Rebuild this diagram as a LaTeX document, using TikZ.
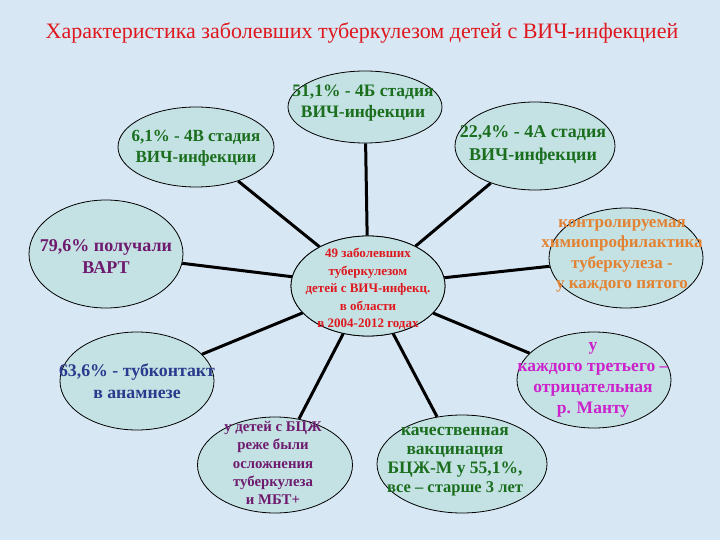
\documentclass[tikz,border=0pt]{standalone}
\usepackage{fontspec}
\setmainfont{Liberation Serif}
\usetikzlibrary{shapes.geometric}
\definecolor{bg}{RGB}{216,231,244}
\definecolor{ellfill}{RGB}{196,226,228}
\definecolor{tred}{RGB}{222,24,30}
\definecolor{tgreen}{RGB}{26,110,30}
\definecolor{tpurple}{RGB}{110,26,110}
\definecolor{torange}{RGB}{226,130,50}
\definecolor{tblue}{RGB}{42,58,140}
\definecolor{tmag}{RGB}{204,34,204}
\begin{document}
\begin{tikzpicture}[x=1pt,y=-1pt,
  ell/.style={ellipse, draw=black, line width=0.8pt, fill=ellfill, inner sep=0pt},
  txt/.style={align=center, inner sep=0pt, font=\fontsize{17.5}{21}\selectfont\bfseries},
  conn/.style={line width=3pt, draw=black}]
\fill[bg] (0,0) rectangle (720,540);
\useasboundingbox (0,0) rectangle (720,540);
\node[inner sep=0pt, text=tred, font=\fontsize{22}{26}\selectfont] (title) at (362,33) {Характеристика заболевших туберкулезом детей с ВИЧ-инфекцией};
% ellipses
\node[ell, minimum width=154pt, minimum height=72pt] (top) at (365,107) {};
\node[ell, minimum width=156pt, minimum height=80pt] (lt) at (196,147) {};
\node[ell, minimum width=160pt, minimum height=88pt] (rt) at (535,146) {};
\node[ell, minimum width=154pt, minimum height=108pt] (lm) at (106,254) {};
\node[ell, minimum width=154pt, minimum height=100pt] (rm) at (626,258) {};
\node[ell, minimum width=154pt, minimum height=98pt] (lb) at (137,381) {};
\node[ell, minimum width=154pt, minimum height=96pt] (rb) at (594,380) {};
\node[ell, minimum width=155pt, minimum height=96pt] (bl) at (275,465) {};
\node[ell, minimum width=170pt, minimum height=98pt] (br) at (462,464) {};
\node[ell, minimum width=154pt, minimum height=100pt] (c) at (368,286) {};
% connectors
\foreach \n in {top,lt,rt,lm,rm,lb,rb,bl,br} \draw[conn] (c) -- (\n);
\node[ell, minimum width=154pt, minimum height=100pt] at (368,286) {};
% texts
\node[txt, text=tgreen] (ttop) at (363,103) {51,1\% - 4Б стадия\\ ВИЧ-инфекции};
\node[txt, text=tgreen, font=\fontsize{17}{21}\selectfont\bfseries] (tlt) at (196,148) {6,1\% - 4В стадия\\ВИЧ-инфекции};
\node[txt, text=tgreen, font=\fontsize{18}{23}\selectfont\bfseries] (trt) at (533,145) {22,4\% - 4А стадия\\ВИЧ-инфекции};
\node[txt, text=tpurple, font=\fontsize{18}{22}\selectfont\bfseries] (tlm) at (106,257) {79,6\% получали\\ВАРТ};
\node[txt, text=tred, font=\fontsize{13}{17.5}\selectfont\bfseries] (tc) at (368,289) {49 заболевших\\туберкулезом\\детей с ВИЧ-инфекц.\\в области\\в 2004-2012 годах};
\node[txt, text=torange, font=\fontsize{17}{20.5}\selectfont\bfseries] (trm) at (622,256) {контролируемая\\химиопрофилактика\\туберкулеза -\\у каждого пятого};
\node[txt, text=tblue, font=\fontsize{17.8}{22}\selectfont\bfseries] (tlb) at (137,381) {63,6\% - тубконтакт\\в анамнезе};
\node[txt, text=tmag, font=\fontsize{17.5}{21}\selectfont\bfseries] (trb) at (593,380) {у\\каждого третьего –\\отрицательная\\р. Манту};
\node[txt, text=tpurple, font=\fontsize{14.8}{18.3}\selectfont\bfseries] (tbl) at (273,463) {у детей с БЦЖ\\реже были\\осложнения\\туберкулеза\\и МБТ+};
\node[txt, text=tgreen, font=\fontsize{17.5}{19}\selectfont\bfseries] (tbr) at (455,462) {качественная\\вакцинация\\БЦЖ-М у 55,1\%,\\{\fontsize{16.5}{19}\selectfont все – старше 3 лет}};
\end{tikzpicture}
\end{document}
